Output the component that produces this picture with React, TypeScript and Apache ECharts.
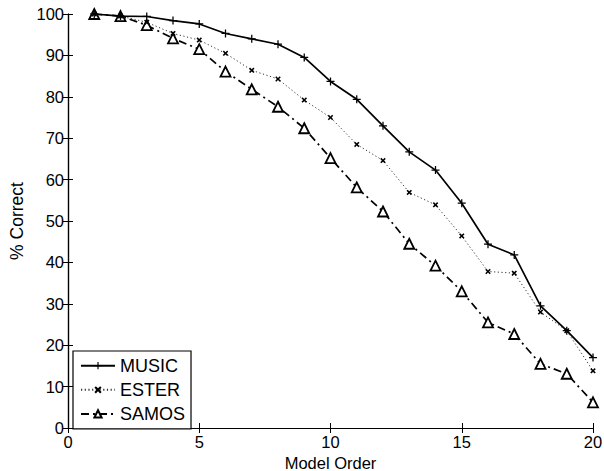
import React, { useEffect, useRef } from "react";
import * as echarts from "echarts";

const modelOrder = [1, 2, 3, 4, 5, 6, 7, 8, 9, 10, 11, 12, 13, 14, 15, 16, 17, 18, 19, 20];
const music = [100, 99.5, 99.4, 98.4, 97.6, 95.3, 94, 92.7, 89.5, 83.7, 79.4, 73, 66.7, 62.3, 54.3, 44.4, 41.8, 29.5, 23.5, 17];
const ester = [100, 99.5, 98, 95.3, 93.7, 90.5, 86.4, 84.3, 79.2, 75, 68.5, 64.6, 56.9, 53.9, 46.4, 37.8, 37.4, 28, 23.5, 13.8];
const samos = [100, 99.5, 97.3, 94.1, 91.5, 86.1, 81.8, 77.6, 72.4, 65.2, 58.1, 52.3, 44.5, 39.2, 33, 25.5, 22.7, 15.5, 13.1, 6.2];

const plusPath = "path://M4.2,0 L5.8,0 L5.8,4.2 L10,4.2 L10,5.8 L5.8,5.8 L5.8,10 L4.2,10 L4.2,5.8 L0,5.8 L0,4.2 L4.2,4.2 Z";
const crossPath = "path://M2,0 L5,3 L8,0 L10,2 L7,5 L10,8 L8,10 L5,7 L2,10 L0,8 L3,5 L0,2 Z";

const FONT = "Liberation Sans, Arial, Helvetica, sans-serif";

export default function App() {
  const ref = useRef<HTMLDivElement>(null);
  useEffect(() => {
    if (!ref.current) return;
    const chart = echarts.init(ref.current, undefined, { renderer: "svg" });
    const pair = (arr: number[]) => modelOrder.map((x, i) => [x, arr[i]]);
    const axisCommon = {
      axisLine: { show: true, lineStyle: { color: "#000", width: 1.2 } },
      axisTick: { show: true, inside: true, length: 5, lineStyle: { color: "#000" } },
      splitLine: { show: false },
    };
    chart.setOption({
      animation: false,
      backgroundColor: "#fff",
      textStyle: { fontFamily: FONT },
      grid: { left: 68, right: 11, top: 14, bottom: 43, containLabel: false, outerBoundsMode: "none" },
      legend: {
        orient: "vertical",
        left: 73,
        top: 351,
        padding: [5.7, 6, 6, 7],
        itemGap: 6.1,
        itemWidth: 34,
        itemHeight: 9,
        borderColor: "#000",
        borderWidth: 1.2,
        backgroundColor: "#fff",
        borderRadius: 0,
        textStyle: { fontSize: 18, lineHeight: 18, color: "#000", fontFamily: FONT },
        data: ["MUSIC", "ESTER", "SAMOS"],
      },
      xAxis: [
        {
          type: "value",
          min: 0,
          max: 20,
          interval: 5,
          name: "Model Order",
          nameLocation: "middle",
          nameGap: 22,
          nameTextStyle: { fontSize: 16.5, lineHeight: 17, color: "#000", fontFamily: FONT },
          axisLabel: { fontSize: 16.5, color: "#000", margin: 5, fontFamily: FONT },
          ...axisCommon,
        },
        {
          type: "value",
          position: "top",
          min: 0,
          max: 20,
          interval: 5,
          axisLabel: { show: false },
          ...axisCommon,
        },
      ],
      yAxis: [
        {
          type: "value",
          min: 0,
          max: 100,
          interval: 10,
          name: "% Correct",
          nameLocation: "middle",
          nameGap: 31,
          nameRotate: 90,
          nameTextStyle: { fontSize: 17.5, color: "#000", fontFamily: FONT },
          axisLabel: { fontSize: 16.5, color: "#000", margin: 4, fontFamily: FONT },
          ...axisCommon,
        },
        {
          type: "value",
          position: "right",
          min: 0,
          max: 100,
          interval: 10,
          axisLabel: { show: false },
          ...axisCommon,
        },
      ],
      series: [
        {
          name: "MUSIC",
          type: "line",
          data: pair(music),
          symbol: plusPath,
          symbolSize: 8,
          itemStyle: { color: "#000" },
          lineStyle: { color: "#000", width: 1.7, type: "solid" },
          z: 4,
        },
        {
          name: "ESTER",
          type: "line",
          data: pair(ester),
          symbol: crossPath,
          symbolSize: 5.5,
          itemStyle: { color: "#000" },
          lineStyle: { color: "#333", width: 1, type: [1.2, 2.5] },
          z: 3,
        },
        {
          name: "SAMOS",
          type: "line",
          data: pair(samos),
          symbol: "triangle",
          symbolSize: 10,
          itemStyle: { color: "#fff", borderColor: "#000", borderWidth: 1.8 },
          lineStyle: { color: "#000", width: 1.7, type: [8, 4, 2, 4] },
          z: 2,
        },
      ],
    });
    return () => chart.dispose();
  }, []);
  return <div ref={ref} style={{ width: 604, height: 471, position: "absolute", left: 0, top: 0 }} />;
}
